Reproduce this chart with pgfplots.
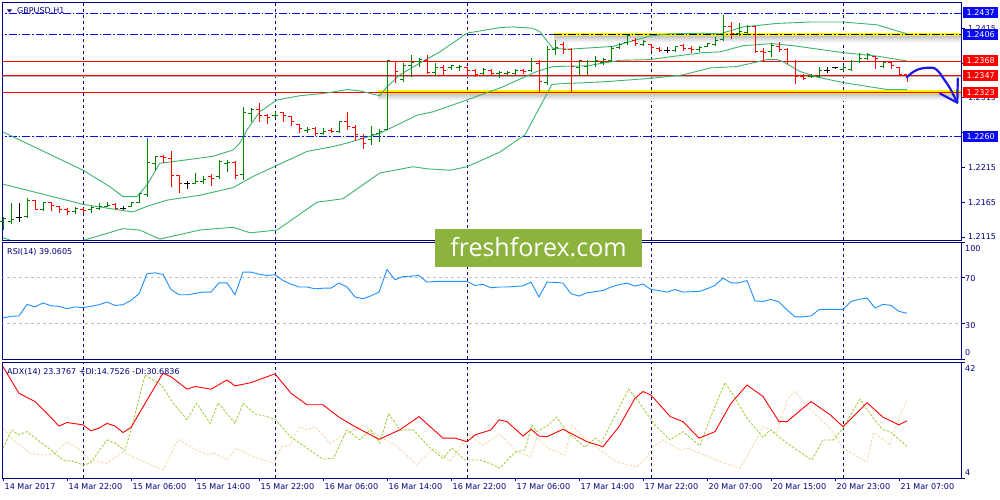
\documentclass[border=0pt]{standalone}
\usepackage{fontspec}
\setmainfont{DejaVu Sans}
\newfontfamily\wmfont{Open Sans}
\usepackage{pgfplots}
\usepackage{pgfplotstable}
\pgfplotsset{compat=1.18}

\definecolor{mtnavy}{RGB}{0,0,128}
\definecolor{upgreen}{RGB}{0,128,0}
\definecolor{bbgreen}{RGB}{60,179,113}
\definecolor{rsiblue}{RGB}{30,144,255}
\definecolor{pdi}{RGB}{154,205,50}
\definecolor{mdi}{RGB}{245,215,165}
\definecolor{wmgreen}{RGB}{141,179,63}
\definecolor{lvlblue}{RGB}{10,10,240}
\definecolor{arrowblue}{RGB}{25,25,225}

% open tick to the left, close tick to the right
\pgfdeclareplotmark{otick}{\pgfpathmoveto{\pgfqpoint{-3pt}{0pt}}\pgfpathlineto{\pgfqpoint{0pt}{0pt}}\pgfusepathqstroke}
\pgfdeclareplotmark{ctick}{\pgfpathmoveto{\pgfqpoint{0pt}{0pt}}\pgfpathlineto{\pgfqpoint{3pt}{0pt}}\pgfusepathqstroke}

\tikzset{dashdot/.style={line width=0.9pt, dash pattern=on 8pt off 2pt on 1.5pt off 2pt}}

\pgfplotsset{
  panel/.style={scale only axis, width=958.5pt, anchor=south west,
    xmin=-0.0625, xmax=119.75,
    axis line style={mtnavy, line width=0.9pt},
    xtick=\empty,
    extra x ticks={10,34,58,81,105}, extra x tick labels={},
    extra x tick style={grid=major, major tick length=0pt},
    major grid style={mtnavy, line width=0.8pt, dash pattern=on 3pt off 3pt},
    ytick pos=right, yticklabel pos=right, tick align=outside,
    tick style={mtnavy, line width=0.8pt}, major tick length=3.5pt,
    tick label style={font=\fontsize{8}{9.6}\selectfont, text=mtnavy},
  },
  ohlc/.style={only marks, color=#1, mark=otick, mark options={line width=1pt},
    error bars/.cd, y dir=both, y explicit, error mark=none,
    error bar style={color=#1, line width=1pt}},
  closes/.style={only marks, color=#1, mark=ctick, mark options={line width=1pt}},
}

% bar index, open, high, low, close
\pgfplotstableread{
i o h l c
0 1.2138 1.2144 1.2125 1.2142
1 1.2138 1.2164 1.2134 1.2140
3 1.2144 1.2171 1.2143 1.2167
5 1.2155 1.2166 1.2153 1.2164
9 1.2151 1.2158 1.2148 1.2156
11 1.2154 1.2159 1.2150 1.2158
12 1.2156 1.2164 1.2154 1.2159
13 1.2159 1.2165 1.2158 1.2161
16 1.2159 1.2165 1.2158 1.2164
17 1.2164 1.2178 1.2164 1.2177
18 1.2176 1.2257 1.2173 1.2222
19 1.2221 1.2231 1.2211 1.2230
24 1.2192 1.2207 1.2191 1.2195
25 1.2195 1.2202 1.2191 1.2197
27 1.2202 1.2226 1.2199 1.2224
28 1.2220 1.2226 1.2209 1.2222
30 1.2205 1.2302 1.2197 1.2294
31 1.2292 1.2300 1.2281 1.2298
34 1.2289 1.2294 1.2287 1.2290
38 1.2268 1.2273 1.2264 1.2270
40 1.2264 1.2271 1.2262 1.2266
42 1.2266 1.2281 1.2265 1.2281
46 1.2255 1.2274 1.2247 1.2262
47 1.2264 1.2270 1.2252 1.2266
48 1.2270 1.2369 1.2269 1.2368
50 1.2342 1.2365 1.2338 1.2362
51 1.2361 1.2377 1.2345 1.2366
52 1.2367 1.2373 1.2359 1.2370
54 1.2351 1.2365 1.2346 1.2358
56 1.2358 1.2362 1.2355 1.2361
57 1.2358 1.2362 1.2354 1.2360
60 1.2350 1.2358 1.2348 1.2356
62 1.2350 1.2353 1.2343 1.2352
63 1.2350 1.2354 1.2349 1.2352
64 1.2350 1.2356 1.2348 1.2354
66 1.2354 1.2372 1.2353 1.2367
68 1.2337 1.2389 1.2333 1.2385
69 1.2384 1.2398 1.2377 1.2388
72 1.2359 1.2370 1.2346 1.2368
73 1.2360 1.2369 1.2348 1.2367
74 1.2367 1.2375 1.2360 1.2369
75 1.2366 1.2372 1.2362 1.2370
76 1.2369 1.2389 1.2367 1.2386
77 1.2388 1.2394 1.2385 1.2391
78 1.2394 1.2407 1.2391 1.2405
80 1.2391 1.2398 1.2389 1.2396
84 1.2383 1.2390 1.2381 1.2389
87 1.2384 1.2389 1.2381 1.2387
88 1.2389 1.2394 1.2388 1.2393
89 1.2391 1.2402 1.2389 1.2398
90 1.2399 1.2434 1.2397 1.2417
92 1.2407 1.2423 1.2404 1.2410
93 1.2409 1.2420 1.2405 1.2418
96 1.2381 1.2394 1.2374 1.2390
101 1.2345 1.2349 1.2343 1.2346
102 1.2345 1.2359 1.2343 1.2355
105 1.2356 1.2362 1.2354 1.2358
106 1.2356 1.2369 1.2354 1.2367
107 1.2367 1.2380 1.2365 1.2372
108 1.2372 1.2380 1.2369 1.2377
110 1.2360 1.2367 1.2358 1.2366
}\upbars

\pgfplotstableread{
i o h l c
4 1.2167 1.2168 1.2155 1.2155
6 1.2164 1.2165 1.2153 1.2160
7 1.2159 1.2160 1.2150 1.2154
8 1.2154 1.2156 1.2147 1.2151
10 1.2155 1.2157 1.2149 1.2153
14 1.2162 1.2164 1.2155 1.2156
20 1.2230 1.2233 1.2221 1.2229
21 1.2228 1.2238 1.2187 1.2204
22 1.2203 1.2204 1.2178 1.2192
26 1.2202 1.2206 1.2188 1.2199
29 1.2222 1.2224 1.2199 1.2204
32 1.2298 1.2308 1.2281 1.2290
33 1.2290 1.2292 1.2278 1.2287
35 1.2294 1.2295 1.2281 1.2289
36 1.2288 1.2289 1.2275 1.2281
37 1.2276 1.2278 1.2264 1.2271
39 1.2271 1.2273 1.2260 1.2264
41 1.2268 1.2271 1.2264 1.2266
43 1.2281 1.2295 1.2269 1.2274
44 1.2273 1.2276 1.2253 1.2262
45 1.2257 1.2263 1.2241 1.2250
49 1.2367 1.2368 1.2337 1.2353
53 1.2369 1.2377 1.2350 1.2351
55 1.2358 1.2362 1.2346 1.2355
58 1.2359 1.2360 1.2348 1.2354
59 1.2355 1.2356 1.2345 1.2349
61 1.2355 1.2356 1.2348 1.2350
65 1.2355 1.2356 1.2350 1.2353
67 1.2365 1.2369 1.2322 1.2338
70 1.2391 1.2396 1.2378 1.2385
71 1.2384 1.2386 1.2322 1.2360
79 1.2398 1.2401 1.2390 1.2393
81 1.2391 1.2393 1.2383 1.2388
82 1.2386 1.2388 1.2381 1.2383
85 1.2390 1.2392 1.2383 1.2386
86 1.2386 1.2389 1.2379 1.2384
91 1.2418 1.2424 1.2399 1.2407
94 1.2417 1.2418 1.2379 1.2381
95 1.2381 1.2386 1.2366 1.2380
97 1.2389 1.2396 1.2381 1.2384
98 1.2384 1.2386 1.2364 1.2367
99 1.2367 1.2370 1.2335 1.2346
100 1.2346 1.2350 1.2341 1.2343
109 1.2374 1.2375 1.2356 1.2372
111 1.2366 1.2367 1.2356 1.2362
112 1.2359 1.2360 1.2348 1.2348
113 1.2348 1.2348 1.2338 1.2347
}\downbars

\pgfplotstableread{
i o h l c
2 1.2143 1.2164 1.2137 1.2143
15 1.2156 1.2159 1.2154 1.2156
23 1.2192 1.2196 1.2184 1.2192
83 1.2383 1.2388 1.2380 1.2383
103 1.2355 1.2359 1.2351 1.2355
104 1.2358 1.2359 1.2356 1.2358
}\dojibars

\begin{document}
\begin{tikzpicture}[x=1pt,y=1pt]
\useasboundingbox (0,0) rectangle (1000,500);
\fill[white] (0,0) rectangle (1000,500);

% ---------------- price panel ----------------
\begin{axis}[panel, at={(2.5pt,260pt)}, height=238pt,
  ymin=1.21107, ymax=1.24528,
  ytick={1.2115,1.2165,1.2215,1.2265,1.2315,1.2365,1.2415},
  yticklabels={1.2115,1.2165,1.2215,,1.2315,,1.2415},
  scaled y ticks=false]
  % support / resistance marks
  \shade[top color=black!22, bottom color=white] ([yshift=-1.8pt]axis cs:68.9,1.2406) rectangle ([yshift=-8pt]axis cs:121,1.2406);
  \shade[top color=black!22, bottom color=white] ([yshift=-1.8pt]axis cs:46.9,1.2323) rectangle ([yshift=-8pt]axis cs:121,1.2323);
  \draw[yellow, line width=3.6pt] (axis cs:68.9,1.2406) -- (axis cs:121,1.2406);
  \draw[yellow, line width=3.6pt] (axis cs:46.9,1.2323) -- (axis cs:121,1.2323);
  \draw[lvlblue, dashdot] (axis cs:-1,1.2437) -- (axis cs:121,1.2437);
  \draw[lvlblue, dashdot] (axis cs:-1,1.2406) -- (axis cs:68.9,1.2406);
  \draw[black, dashdot] (axis cs:68.9,1.2406) -- (axis cs:121,1.2406);
  \draw[lvlblue, dashdot] (axis cs:-1,1.2260) -- (axis cs:121,1.2260);
  \draw[black!30, line width=0.8pt] ([yshift=-1pt]axis cs:-1,1.2347) -- ([yshift=-1pt]axis cs:121,1.2347);
  \draw[red, line width=0.9pt] (axis cs:-1,1.2368) -- (axis cs:121,1.2368);
  \draw[red, line width=0.9pt] (axis cs:-1,1.2347) -- (axis cs:121,1.2347);
  \draw[red, line width=0.9pt] (axis cs:-1,1.2323) -- (axis cs:121,1.2323);

  % Bollinger bands
  \addplot[bbgreen, line width=0.9pt] table[x=i, y=v] {
i v
0 1.2266
10 1.2211
13.4 1.2187
15 1.2173
16.75 1.2173
18 1.2190
19.6 1.2221
23 1.2226
26.25 1.2231
28.75 1.2240
29.6 1.2250
30.5 1.2269
32.1 1.2295
34.25 1.2312
37.1 1.2318
40.5 1.2322
43 1.2327
44.6 1.2325
47.1 1.2318
48 1.2331
49.6 1.2348
52.1 1.2365
54.6 1.2381
58 1.2408
62.1 1.2416
63.75 1.2417
66.25 1.2415
67.1 1.2410
68.75 1.2386
70.9 1.2385
76.25 1.2389
80.9 1.2404
83.4 1.2407
87.5 1.2408
89.6 1.2407
92.5 1.2417
96.75 1.2422
100.9 1.2424
105 1.2424
109.25 1.2420
113 1.2407
  };
  \addplot[bbgreen, line width=0.9pt] table[x=i, y=v] {
i v
0 1.2191
10 1.2162
15 1.2153
16.25 1.2151
18 1.2159
20.5 1.2168
24.6 1.2175
28.75 1.2186
31.25 1.2202
34.25 1.2218
38 1.2238
41.25 1.2245
43 1.2250
47.1 1.2264
51.75 1.2290
53.75 1.2295
58 1.2312
62.3 1.2330
66.75 1.2353
68.75 1.2360
73 1.2361
77.1 1.2369
80.9 1.2370
83.4 1.2374
87.5 1.2380
89.6 1.2381
92.5 1.2390
96.1 1.2393
98.75 1.2390
105 1.2380
109.25 1.2375
113 1.2368
  };
  \addplot[bbgreen, line width=0.9pt] table[x=i, y=v] {
i v
0 1.2114
1.5 1.2108
4.6 1.2105
10 1.2110
15 1.2127
17.1 1.2125
19.6 1.2112
24.6 1.2125
28.75 1.2129
30.9 1.2121
34.25 1.2125
39.25 1.2165
42.5 1.2170
47.1 1.2207
51.25 1.2216
53 1.2213
55.9 1.2211
58 1.2216
62.1 1.2237
65.25 1.2262
68.6 1.2334
69.25 1.2335
75 1.2338
80.9 1.2343
85 1.2348
88.4 1.2358
91.75 1.2360
95.5 1.2370
96.75 1.2370
97.5 1.2367
99.6 1.2353
101.75 1.2345
105 1.2337
110.5 1.2327
113 1.2327
  };

  % OHLC bars
  \addplot[ohlc=upgreen] table[x=i, y=o, y error plus expr=\thisrow{h}-\thisrow{o}, y error minus expr=\thisrow{o}-\thisrow{l}] {\upbars};
  \addplot[closes=upgreen] table[x=i, y=c] {\upbars};
  \addplot[ohlc=red] table[x=i, y=o, y error plus expr=\thisrow{h}-\thisrow{o}, y error minus expr=\thisrow{o}-\thisrow{l}] {\downbars};
  \addplot[closes=red] table[x=i, y=c] {\downbars};
  \addplot[ohlc=black] table[x=i, y=o, y error plus expr=\thisrow{h}-\thisrow{o}, y error minus expr=\thisrow{o}-\thisrow{l}] {\dojibars};
  \addplot[closes=black] table[x=i, y=c] {\dojibars};
\end{axis}

% ---------------- RSI panel ----------------
\begin{axis}[panel, at={(2.5pt,141pt)}, height=117pt,
  ymin=0, ymax=100, ytick={0,30,70,100}, yticklabels={}]
  \draw[black!25, line width=0.8pt, dash pattern=on 3pt off 3pt] (axis cs:-1,70) -- (axis cs:121,70);
  \draw[black!25, line width=0.8pt, dash pattern=on 3pt off 3pt] (axis cs:-1,30) -- (axis cs:121,30);
  \addplot[rsiblue, line width=0.9pt] table[x=i, y=v] {
i v
0 35.1
1 36.5
2 36.8
3 46.7
4 44.5
5 47.9
6 45.5
7 45.0
8 43.0
9 44.5
10 43.9
11 45.0
12 46.4
13 48.7
14 45.8
15 46.4
16 50.1
17 55.8
18 72.8
19 73.7
20 72.2
21 59.4
22 54.9
23 54.9
24 56.0
25 57.2
26 57.2
27 65.1
28 65.1
29 54.9
30 74.3
31 74.3
32 72.5
33 71.4
34 72.0
35 67.1
36 64.0
37 61.5
38 61.5
39 60.0
40 60.5
41 60.6
42 64.9
43 61.5
44 53.0
45 51.5
46 54.0
47 57.2
48 76.5
49 67.7
50 70.5
51 70.8
52 71.4
53 65.7
54 66.3
55 66.3
56 66.3
57 66.3
58 66.3
59 62.9
60 63.7
61 60.9
62 61.5
63 61.5
64 62.0
65 62.5
66 65.7
67 53.0
68 65.7
69 65.5
70 64.9
71 55.8
72 53.8
73 56.6
74 57.5
75 58.6
76 61.5
77 63.5
78 64.9
79 62.3
80 64.0
81 59.4
82 58.5
83 57.2
84 59.4
85 57.2
86 57.5
87 57.7
88 60.0
89 62.9
90 69.1
91 65.1
92 65.1
93 67.1
94 49.6
95 49.2
96 50.9
97 48.7
98 42.0
99 36.0
100 36.0
101 36.8
102 42.2
103 42.4
104 42.4
105 42.4
106 49.2
107 51.0
108 52.1
109 43.6
110 46.7
111 45.8
112 40.7
113 39.1
  };
\end{axis}

% ---------------- ADX panel ----------------
\begin{axis}[panel, at={(2.5pt,22pt)}, height=116pt,
  ymin=4.0, ymax=43.3, ytick={4,43.3}, yticklabels={},
  xtick={0,8,...,112}, xtick pos=left,
  xticklabels={14 Mar 2017,14 Mar 22:00,15 Mar 06:00,15 Mar 14:00,15 Mar 22:00,16 Mar 06:00,16 Mar 14:00,16 Mar 22:00,17 Mar 06:00,17 Mar 14:00,17 Mar 22:00,20 Mar 07:00,20 Mar 15:00,20 Mar 23:00,21 Mar 07:00},
  xticklabel style={anchor=north west, inner sep=0pt, xshift=1.5pt, yshift=-2pt}]
  % -DI
  \addplot[mdi, line width=0.8pt, dash pattern=on 2.5pt off 1.5pt] table[x=i, y=v] {
i v
0 20.9
1.3 16.9
3.4 12.4
5 11.8
6.3 12.0
8 16.3
9.4 14.1
10.9 10.1
13 9.0
15 12.9
17.1 10.1
20 6.7
21.9 17.1
23.4 14.6
25.5 11.8
26.3 12.6
28 10.1
29.2 14.1
31.3 11.2
33.8 9.0
34.8 14.6
35.9 15.2
37.1 21.4
38 20.3
39 21.4
40.9 15.8
42.75 18.6
45 22.0
47.1 18.0
49.2 14.9
51.7 8.4
53.8 14.1
55.9 9.5
58.2 18.6
60 15.2
62.1 18.9
64.2 12.9
65.9 11.2
66.7 17.5
68.4 13.7
70.25 11.8
71.1 22.0
72.3 18.6
74.6 13.5
76.7 9.5
79.2 7.8
80.5 11.2
81.1 14.1
82.5 16.9
84.6 13.5
85.5 14.1
87.1 12.4
89.6 9.5
92.1 7.3
93 11.2
95 21.4
96.7 19.2
98 30.4
99 33.3
100.9 27.1
103.4 20.9
105 14.1
108 9.5
108.8 19.4
110.9 15.2
111.7 22.5
113 30.68
  };
  % +DI
  \addplot[pdi, line width=0.8pt, dash pattern=on 2.5pt off 1.5pt] table[x=i, y=v] {
i v
0 14.1
1.1 20.3
1.9 18.6
3 19.7
4.6 16.3
5.9 13.7
7.5 10.1
9 9.5
10 8.4
10.9 9.0
13 16.9
14 15.8
15.25 13.3
16.1 21.4
17.75 38.9
18.8 37.2
19.8 35.5
21.3 29.3
23 23.7
24.2 29.3
25.9 22.5
26.9 29.5
29 22.5
30 29.3
31.5 25.7
33 24.8
34 23.9
35.9 18.0
38 14.1
40 10.4
41.3 10.7
43 20.3
44.6 16.9
45.9 20.3
47.1 15.8
48.2 25.9
49.6 20.3
51.3 20.3
53.4 14.1
55 10.7
56.1 14.1
57.75 10.1
59.6 10.1
60.9 9.0
62.1 7.3
63.4 11.2
64.2 12.9
65.25 13.5
66.1 22.0
66.7 19.7
68 21.6
69.2 24.6
70.5 19.7
72.75 14.4
74 17.5
74.8 16.0
78.2 34.1
79.6 29.3
81.3 22.5
83.4 16.9
85 19.7
87.1 14.9
88.4 24.2
90.25 36.3
91.3 32.1
93 24.2
95 17.8
95.9 20.3
98 15.8
101.1 10.1
102.5 16.9
103.8 16.9
105 20.9
107.1 30.7
108.8 24.2
110 20.3
110.9 19.7
113 14.75
  };
  % ADX
  \addplot[red, line width=0.9pt] table[x=i, y=v] {
i v
0 41.7
2 32.7
4 29.9
5.5 25.9
7 21.6
8 22.8
10 22.0
11 20.0
12 20.9
13 22.5
14 21.6
15 19.4
16 21.1
18 30.4
20 39.5
21 38.3
23 34.1
24 35.0
26 34.1
28 37.2
29 35.2
31 36.3
32.5 37.8
34 39.3
36 32.7
38 28.8
40 28.8
42 24.6
44 21.4
47 17.1
49.6 20.3
52 24.8
55 17.5
56.5 17.5
58 16.3
59 18.6
61 20.3
62 23.7
63 23.1
65 18.2
66 20.5
67 18.2
68 18.0
70 20.5
73 16.3
75 14.6
77 21.4
79 31.0
80 33.3
81 32.1
83.4 24.8
85 23.1
87 17.5
89 19.7
91 29.3
93 35.5
95 31.6
97 23.1
98 23.1
101 29.9
103.4 25.4
105 21.4
108 29.5
110 24.6
112 22.0
113 23.38
  };
\end{axis}

% ---------------- labels and annotations ----------------
\begin{scope}[font=\fontsize{8}{9.6}\selectfont, text=mtnavy]
  \fill[mtnavy] (7,490.5) -- (12,490.5) -- (9.5,487.5) -- cycle;
  \node[anchor=west, inner sep=0pt] at (17,489.3) {GBPUSD,H1};
  \node[anchor=west, inner sep=0pt] at (7,248) {RSI(14) 39.0605};
  \node[anchor=west, inner sep=0pt] at (7,128.3) {ADX(14) 23.3767 +DI:14.7526 -DI:30.6836};
  \node[anchor=west, inner sep=0pt] at (965,251) {100};
  \node[anchor=west, inner sep=0pt] at (965,221.7) {70};
  \node[anchor=west, inner sep=0pt] at (965,174.7) {30};
  \node[anchor=west, inner sep=0pt] at (965,147) {0};
  \node[anchor=west, inner sep=0pt] at (965,131) {42};
  \node[anchor=west, inner sep=0pt] at (965,27) {4};
\end{scope}

\begin{scope}[every node/.style={anchor=west, text=white, minimum width=35pt, minimum height=11pt, inner sep=0pt, font=\fontsize{8}{9.6}\selectfont}]
  \node[fill=lvlblue] at (963,487.0) {1.2437};
  \node[fill=lvlblue] at (963,465.4) {1.2406};
  \node[fill=red] at (963,439.0) {1.2368};
  \node[fill=red] at (963,424.3) {1.2347};
  \node[fill=red] at (963,407.6) {1.2323};
  \node[fill=lvlblue] at (963,363.8) {1.2260};
\end{scope}

% hand-drawn forecast arrow
\draw[arrowblue, line width=2.2pt, line cap=round, line join=round]
  plot[smooth, tension=0.7] coordinates {(906.7,422.7) (916.7,430) (930,432.3) (937,430) (943.3,421.7) (950,411.7) (955,401.7) (957.3,397.3)};
\draw[arrowblue, line width=2.2pt, line cap=round, line join=round] (940,406.5) -- (957.3,397.3) -- (957.8,421.5);

% watermark
\fill[wmgreen] (435,233) rectangle (642,271);
\node[text=white, font=\wmfont\fontsize{25}{30}\selectfont] at (538.5,252.5) {freshforex.com};
\end{tikzpicture}
\end{document}
